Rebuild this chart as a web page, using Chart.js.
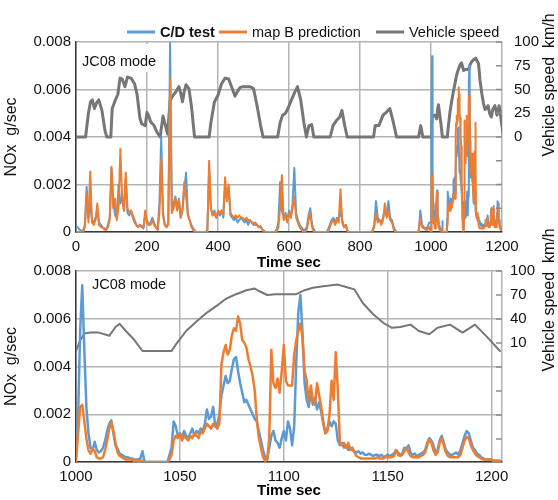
<!DOCTYPE html>
<html>
<head>
<meta charset="utf-8">
<title>NOx C/D test vs map B prediction</title>
<script src="https://cdn.jsdelivr.net/npm/chart.js@4.4.1/dist/chart.umd.min.js"></script>
<style>
  html, body { margin: 0; padding: 0; background: #fff; }
  #wrap { position: relative; width: 558px; height: 500px; overflow: hidden; }
  canvas { position: absolute; left: 0; }
  #topChart { top: 0; }
  #zoomChart { top: 220px; }
</style>
</head>
<body>
<div id="wrap">
  <canvas id="topChart" width="558" height="272"></canvas>
  <canvas id="zoomChart" width="558" height="280"></canvas>
</div>
<script>
// NOx in 10^-3 g/sec (axis labels show g/sec), speed in km/h

// full JC08 run, 0-995 s, read every 5 s
var TOP_STEP = 5;
var topCdTest = [
  0.25, 0.2, 0.1, 0.05, 0.05, 0.3, 1.9, 0.6, 1.2, 0.5,
  0.4, 0.6, 0.9, 0.4, 0.3, 0.2, 0.15, 0.1, 0.3, 0.6,
  2.7, 1.3, 0.7, 0.6, 2.0, 1.2, 1.5, 0.9, 2.2, 0.8,
  0.7, 0.9, 0.6, 0.4, 0.3, 0.2, 0.3, 0.2, 0.15, 0.7,
  0.5, 0.3, 0.4, 0.6, 0.4, 0.2, 0.1, 1.2, 4.0, 0.9,
  0.3, 0.2, 0.4, 8.0, 0.9, 1.2, 1.5, 1.0, 1.4, 0.6,
  0.9, 1.8, 2.5, 0.8, 0.5, 0.3, 0.15, 0.05, 0, 0,
  0, 0, 0, 0, 0.1, 2.6, 1.0, 0.7, 0.9, 0.6,
  0.8, 0.7, 0.9, 0.6, 2.0, 1.4, 1.9, 0.7, 0.6, 0.5,
  0.6, 0.4, 0.5, 0.6, 0.5, 0.4, 0.5, 0.3, 0.5, 0.4,
  0.3, 0.4, 0.3, 0.2, 0.25, 0.1, 0.05, 0, 0, 0,
  0, 0, 0, 0.1, 0.4, 2.1, 0.9, 0.6, 0.8, 0.5,
  0.9, 0.6, 1.2, 2.7, 0.8, 0.5, 0.3, 0.2, 0.1, 0.1,
  0.2, 0.7, 1.0, 0.3, 0.1, 0, 0, 0, 0, 0,
  0, 0, 0.1, 0.3, 0.5, 0.6, 0.4, 0.6, 0.5, 0.9,
  0.5, 0.2, 0.3, 0.05, 0, 0, 0, 0, 0, 0,
  0, 0, 0, 0, 0, 0, 0, 0.05, 0.3, 1.3,
  0.6, 0.5, 0.4, 0.6, 0.9, 0.7, 1.3, 0.6, 0.5, 0.2,
  0.05, 0, 0, 0, 0, 0, 0, 0, 0, 0,
  0, 0, 0, 0, 0.9, 0.3, 0.2, 0.15, 0.2, 0.4
];
var topMapB = [
  0, 0, 0, 0, 0, 0.2, 1.6, 0.4, 2.55, 0.4,
  0.3, 0.5, 1.2, 0.3, 0.2, 0.2, 0.1, 0.1, 0.2, 0.5,
  2.75, 1.0, 1.4, 0.5, 1.1, 3.5, 1.4, 0.9, 2.5, 1.0,
  0.8, 0.9, 0.7, 0.5, 0.3, 0.2, 0.3, 0.25, 0.2, 0.9,
  0.4, 0.3, 0.3, 0.5, 0.3, 0.2, 0.1, 0.8, 3.1, 0.7,
  0.3, 0.2, 0.3, 6.5, 0.8, 1.0, 1.4, 0.9, 1.3, 0.6,
  1.0, 2.1, 1.5, 0.7, 0.5, 0.2, 0.1, 0, 0, 0,
  0, 0, 0, 0, 0, 3.0, 1.0, 0.7, 0.8, 0.6,
  0.9, 0.8, 0.9, 0.7, 2.3, 1.3, 2.0, 0.8, 0.7, 0.6,
  0.7, 0.6, 0.7, 0.6, 0.6, 0.5, 0.6, 0.5, 0.5, 0.4,
  0.4, 0.3, 0.3, 0.2, 0.2, 0.1, 0, 0, 0, 0,
  0, 0, 0, 0, 0.2, 1.0, 2.4, 0.5, 0.7, 0.4,
  0.8, 0.6, 1.0, 1.5, 0.6, 0.4, 0.2, 0.1, 0, 0,
  0.1, 0.5, 0.8, 0.2, 0, 0, 0, 0, 0, 0,
  0, 0, 0, 0.2, 0.4, 0.5, 0.3, 0.5, 0.4, 1.8,
  0.4, 0.2, 0.3, 0, 0, 0, 0, 0, 0, 0,
  0, 0, 0, 0, 0, 0, 0, 0, 0.2, 0.8,
  0.4, 0.5, 0.3, 0.5, 1.2, 0.6, 0.9, 0.5, 0.4, 0.1,
  0, 0, 0, 0, 0, 0, 0, 0, 0, 0,
  0, 0, 0, 0, 0.6, 0.2, 0.15, 0.1, 0.1, 0.2
];
var topSpeedTime = [
  0, 27, 35, 41, 46, 52, 58, 64, 73, 82, 87, 98, 102, 106, 112, 118, 124, 130, 138, 145,
  155, 165, 172, 180, 185, 195, 200, 205, 210, 220, 228, 237, 245, 252, 258, 265, 270, 280, 290, 295,
  300, 305, 310, 318, 325, 334, 375, 380, 390, 400, 410, 420, 430, 440, 448, 455, 462, 470, 480, 490,
  500, 510, 520, 527, 568, 575, 582, 590, 597, 607, 616, 624, 633, 642, 649, 656, 664, 670, 716, 724,
  733, 743, 749, 757, 764, 838, 843, 853, 865, 874, 884, 893, 903, 965, 971, 977, 996
];
var topSpeed = [
  0, 0, 25, 37, 39, 30, 36, 39, 28, 6, 0, 0, 30, 34, 40, 45, 62, 61, 53, 63,
  62, 56, 45, 20, 14, 12, 26, 22, 16, 12, 5, 0, 22, 12, 3, 38, 42, 47, 53, 46,
  37, 48, 55, 51, 33, 0, 0, 15, 37, 44, 56, 62, 61, 51, 43, 48, 52, 53, 53, 53,
  51, 33, 12, 0, 0, 15, 23, 25, 30, 39, 47, 53, 39, 15, 0, 12, 13, 0, 0, 12,
  17, 21, 28, 12, 0, 0, 12, 12, 23, 26, 30, 17, 0, 0, 12, 0, 0
];

// 1000-1204 s close-up, read every second (also used for the end of the top panel)
var ZOOM_START = 1000;
var zoomCdTest = [
  0.4, 1.9, 5.5, 7.4, 4.7, 2.3, 1.2, 0.6, 0.5, 0.85,
  0.5, 0.4, 0.45, 0.6, 0.9, 1.3, 1.6, 1.75, 1.2, 0.7,
  0.55, 0.35, 0.3, 0.25, 0.2, 0.2, 0.15, 0.15, 0.1, 0.1,
  0.1, 0.15, 0.45, 0, 0, 0, 0, 0, 0, 0,
  0, 0, 0, 0, 0, 0.3, 0.6, 1.7, 1.5, 1.1,
  1.2, 1.0, 1.3, 1.1, 1.0, 1.2, 1.4, 1.1, 1.3, 1.2,
  1.4, 1.3, 1.6, 2.2, 1.8, 1.9, 2.3, 1.5, 1.6, 2.0,
  2.8, 3.2, 3.6, 3.3, 3.4, 3.9, 4.3, 4.4, 3.8, 3.3,
  2.9, 2.5, 2.6, 2.4, 2.2, 2.0, 1.8, 1.7, 1.3, 0.9,
  0.5, 0.2, 0.1, 0.6, 1.1, 1.3, 0.9, 0.8, 0.6, 1.0,
  1.3, 0.9, 1.7, 1.4, 0.7, 1.5, 4.2, 6.3, 7.0, 5.4,
  3.3, 2.6, 2.3, 2.9, 2.4, 2.7, 2.2, 2.5, 2.1, 1.6,
  1.2, 1.4, 1.7, 1.5, 1.7, 1.6, 0.9, 0.7, 0.8, 0.6,
  0.7, 0.5, 0.6, 0.5, 0.45, 0.4, 0.45, 0.35, 0.4, 0.3,
  0.3, 0.35, 0.3, 0.25, 0.3, 0.3, 0.25, 0.3, 0.2, 0.25,
  0.3, 0.25, 0.3, 0.35, 0.5, 0.4, 0.3, 0.35, 0.6, 0.55,
  0.7, 0.4, 0.3, 0.35, 0.25, 0.3, 0.35, 0.4, 0.5, 0.8,
  1.0, 0.9, 0.7, 0.4, 0.5, 0.9, 1.1, 0.8, 0.5, 0.4,
  0.3, 0.3, 0.35, 0.4, 0.3, 0.5, 0.8, 1.1, 1.3, 1.2,
  0.9, 0.6, 0.5, 0.35, 0.3, 0.2, 0.15, 0.1, 0.1, 0.1,
  0.1, 0.05, 0.05, 0.05, 0.05
];
var zoomMapB = [
  0, 1.2, 2.3, 2.4, 1.7, 1.0, 0.5, 0.35, 0.55, 0.45,
  0.2, 0.15, 0.15, 0.2, 0.5, 0.9, 1.4, 1.65, 1.3, 0.8,
  0.4, 0.25, 0.2, 0.15, 0.1, 0.1, 0.1, 0.1, 0.05, 0.05,
  0.05, 0.05, 0.05, 0, 0, 0, 0, 0, 0, 0,
  0, 0, 0, 0, 0, 0.1, 0.3, 0.9, 1.1, 1.0,
  1.2, 0.9, 1.1, 1.0, 0.9, 1.1, 1.0, 1.2, 1.1, 1.0,
  1.3, 1.2, 1.4, 1.6, 1.5, 1.4, 1.6, 1.5, 1.4, 1.6,
  4.1, 4.6, 4.9, 4.5, 4.7, 5.3, 5.6, 5.5, 6.1, 5.8,
  5.1, 5.0, 4.8, 4.3, 4.0, 3.6, 3.0, 1.8, 1.0, 0.6,
  0.2, 0.05, 0.1, 1.0, 4.7, 3.3, 3.1, 3.5, 2.9, 3.8,
  4.9, 3.4, 3.2, 3.2, 3.2, 4.5, 5.1, 5.5, 5.8, 5.2,
  3.8, 3.4, 2.5, 3.2, 2.6, 2.4, 3.3, 2.8, 2.3, 1.7,
  1.2, 1.3, 2.0, 3.4, 2.6, 4.6, 3.0, 0.8, 0.7, 0.8,
  0.6, 0.8, 0.5, 0.6, 0.4, 0.25, 0.2, 0.15, 0.15, 0.15,
  0.15, 0.15, 0.15, 0.15, 0.15, 0.2, 0.15, 0.15, 0.15, 0.2,
  0.2, 0.2, 0.2, 0.25, 0.5, 0.3, 0.25, 0.3, 0.45, 0.6,
  0.4, 0.25, 0.2, 0.2, 0.2, 0.2, 0.25, 0.3, 0.4, 0.7,
  0.95, 0.8, 0.5, 0.3, 0.4, 0.8, 1.0, 0.7, 0.4, 0.25,
  0.2, 0.2, 0.2, 0.2, 0.2, 0.3, 0.6, 0.9, 1.05, 1.0,
  0.7, 0.5, 0.35, 0.25, 0.2, 0.15, 0.1, 0.1, 0.1, 0.1,
  0.1, 0.05, 0.05, 0.05, 0.05
];
var zoomSpeedTime = [
  1000, 1002, 1004, 1007, 1011, 1016, 1019, 1021, 1024, 1028, 1032, 1046, 1048, 1053, 1058, 1063,
  1068, 1072, 1077, 1082, 1086, 1088, 1092, 1096, 1101, 1106, 1110, 1114, 1119, 1126, 1130, 1134,
  1138, 1143, 1148, 1152, 1156, 1161, 1165, 1170, 1174, 1180, 1186, 1192, 1198, 1204
];
var zoomSpeed = [
  0, 13, 22, 23, 23, 19, 30, 34, 25, 14, 0, 0, 8, 25, 37, 48,
  57, 65, 71, 76, 78, 75, 70, 71, 71, 71, 76, 79, 81, 83, 80, 77,
  60, 46, 35, 29, 30, 33, 25, 21, 29, 33, 23, 33, 17, 0
];

// axes
var noxTicks = [0, 2, 4, 6, 8];
var noxTickLabels = ['0', '0.002', '0.004', '0.006', '0.008'];
var topTimeTicks = [0, 200, 400, 600, 800, 1000, 1200];
var zoomTimeTicks = [1000, 1050, 1100, 1150, 1200];
var topSpeedTicks = [100, 75, 50, 25, 0, -25, -50, -75];
var zoomSpeedTicks = [100, 70, 40, 10, -20, -50, -80, -110];

(function () {
  var BLUE = '#5B9BD5';
  var ORANGE = '#ED7D31';
  var GRAY = '#767676';
  var GRID = '#B3B3B3';
  var AXIS = '#3A3A3A';
  var FONT = '"Liberation Sans", Arial, Helvetica, sans-serif';

  Chart.defaults.font.family = FONT;
  Chart.defaults.color = '#111';

  function gridSeries(values, start, step) {
    return values.map(function (v, i) { return { x: start + i * step, y: v }; });
  }
  function pairSeries(times, values) {
    return times.map(function (t, i) { return { x: t, y: values[i] }; });
  }
  function setTicks(list) {
    return function (axis) {
      axis.ticks = list.map(function (v) { return { value: v }; });
    };
  }

  // mode label, inner ticks of the speed axis, right-hand title, legend row
  var panelDecor = {
    id: 'panelDecor',
    beforeDatasetsDraw: function (chart, args, opts) {
      var ctx = chart.ctx, area = chart.chartArea;
      ctx.save();
      ctx.font = '14.5px ' + FONT;
      var w = ctx.measureText(opts.mode).width;
      ctx.fillStyle = '#fff';
      ctx.fillRect(area.left + opts.modeX - 4, area.top + 2, w + 8, opts.boxH);
      ctx.fillStyle = '#111';
      ctx.textBaseline = 'middle';
      ctx.fillText(opts.mode, area.left + opts.modeX, area.top + opts.modeY);
      ctx.restore();
    },
    afterDraw: function (chart, args, opts) {
      var ctx = chart.ctx, area = chart.chartArea, y1 = chart.scales.y1;
      ctx.save();
      ctx.strokeStyle = '#8C8C8C';
      ctx.lineWidth = 1.5;
      y1.ticks.forEach(function (t) {
        var py = y1.getPixelForValue(t.value);
        ctx.beginPath();
        ctx.moveTo(area.right - 6, py);
        ctx.lineTo(area.right, py);
        ctx.stroke();
      });

      if (opts.legend) {
        // legend order follows the reference: C/D test, map B prediction, Vehicle speed
        var ds = chart.data.datasets;
        var order = [1, 0, 2];
        ctx.textBaseline = 'middle';
        ctx.lineWidth = 3;
        ctx.lineCap = 'butt';
        order.forEach(function (idx, k) {
          var x0 = opts.legend.x[k], y = opts.legend.y;
          ctx.strokeStyle = ds[idx].borderColor;
          ctx.beginPath();
          ctx.moveTo(x0, y);
          ctx.lineTo(x0 + 28, y);
          ctx.stroke();
          ctx.fillStyle = '#111';
          ctx.font = (k === 0 ? 'bold ' : '') + '14.5px ' + FONT;
          ctx.fillText(ds[idx].label, x0 + 33, y + 0.5);
        });
      }

      ctx.translate(opts.titleX, opts.titleY);
      ctx.rotate(-Math.PI / 2);
      ctx.font = '16px ' + FONT;
      ctx.textAlign = 'center';
      ctx.textBaseline = 'middle';
      ctx.fillStyle = '#111';
      ctx.fillText('Vehicle speed  km/h', 0, 0);
      ctx.restore();
    }
  };

  function buildOptions(cfg) {
    return {
      responsive: false,
      animation: false,
      events: [],
      layout: { padding: { top: cfg.padTop, left: 0, right: 0, bottom: 0 } },
      elements: {
        point: { radius: 0 },
        line: { tension: 0, borderJoinStyle: 'round', borderCapStyle: 'round' }
      },
      plugins: {
        legend: { display: false },
        tooltip: { enabled: false },
        panelDecor: cfg.decor
      },
      scales: {
        x: {
          type: 'linear',
          min: cfg.xMin,
          max: cfg.xMax,
          afterBuildTicks: setTicks(cfg.xTicks),
          afterFit: function (s) { s.height = cfg.xHeight; },
          grid: { color: GRID, lineWidth: 1.5, drawTicks: false },
          border: { color: AXIS, width: 1.5 },
          ticks: {
            padding: 6, maxRotation: 0, autoSkip: false, font: { size: 15 }, color: '#111',
            callback: function (v) { return cfg.xLabels.indexOf(v) >= 0 ? String(v) : ''; }
          },
          title: { display: true, text: 'Time sec', font: { size: 15, weight: 'bold' }, color: '#000', padding: 0 }
        },
        y: {
          position: 'left',
          min: 0,
          max: 8,
          afterBuildTicks: setTicks(noxTicks),
          afterFit: function (s) { s.width = 76; },
          grid: { color: GRID, lineWidth: 1.5, drawTicks: false },
          border: { color: AXIS, width: 1.5 },
          ticks: {
            padding: 5, font: { size: 15 }, color: '#111',
            callback: function (v) { return noxTickLabels[noxTicks.indexOf(v)]; }
          },
          title: { display: true, text: 'NOx  g/sec', font: { size: 16 }, color: '#111', padding: { top: 2, bottom: 0 } }
        },
        y1: {
          position: 'right',
          min: cfg.speedMin,
          max: 100,
          afterBuildTicks: setTicks(cfg.speedTicks),
          afterFit: function (s) { s.width = 56; },
          grid: { drawOnChartArea: false, drawTicks: false },
          border: { display: false },
          ticks: {
            padding: cfg.speedPad, font: { size: 15 }, color: '#111',
            callback: function (v) { return v >= cfg.speedLabelFrom ? String(v) : ''; }
          }
        }
      }
    };
  }

  function datasets(cd, mapB, speed, noxWidth, speedWidth) {
    return [
      { label: 'map B prediction', data: mapB, borderColor: ORANGE, backgroundColor: ORANGE,
        borderWidth: noxWidth, yAxisID: 'y', order: 1, clip: 0 },
      { label: 'C/D test', data: cd, borderColor: BLUE, backgroundColor: BLUE,
        borderWidth: noxWidth, yAxisID: 'y', order: 2, clip: 0 },
      { label: 'Vehicle speed', data: speed, borderColor: GRAY, backgroundColor: GRAY,
        borderWidth: speedWidth, yAxisID: 'y1', order: 3, clip: 0 }
    ];
  }

  var zoomCdPts = gridSeries(zoomCdTest, ZOOM_START, 1);
  var zoomMapPts = gridSeries(zoomMapB, ZOOM_START, 1);
  var zoomSpeedPts = pairSeries(zoomSpeedTime, zoomSpeed);

  new Chart(document.getElementById('topChart'), {
    type: 'line',
    data: {
      datasets: datasets(
        gridSeries(topCdTest, 0, TOP_STEP).concat(zoomCdPts),
        gridSeries(topMapB, 0, TOP_STEP).concat(zoomMapPts),
        pairSeries(topSpeedTime, topSpeed).concat(zoomSpeedPts),
        2, 3
      )
    },
    options: buildOptions({
      padTop: 42, xHeight: 40, xMin: 0, xMax: 1200,
      xTicks: topTimeTicks, xLabels: topTimeTicks,
      speedMin: -100, speedTicks: topSpeedTicks, speedLabelFrom: 0, speedPad: 12,
      decor: {
        mode: 'JC08 mode', modeX: 6, modeY: 20, boxH: 28, titleX: 550, titleY: 85,
        legend: { x: [127, 219, 376], y: 32 }
      }
    }),
    plugins: [panelDecor]
  });

  new Chart(document.getElementById('zoomChart'), {
    type: 'line',
    data: { datasets: datasets(zoomCdPts, zoomMapPts, zoomSpeedPts, 2.5, 2) },
    options: buildOptions({
      padTop: 51, xHeight: 38, xMin: 1000, xMax: 1205,
      xTicks: zoomTimeTicks.concat([1205]), xLabels: zoomTimeTicks,
      speedMin: -138.75, speedTicks: zoomSpeedTicks, speedLabelFrom: 10, speedPad: 8,
      decor: { mode: 'JC08 mode', modeX: 16, modeY: 14, boxH: 22, titleX: 550, titleY: 80 }
    }),
    plugins: [panelDecor]
  });
})();
</script>
</body>
</html>
